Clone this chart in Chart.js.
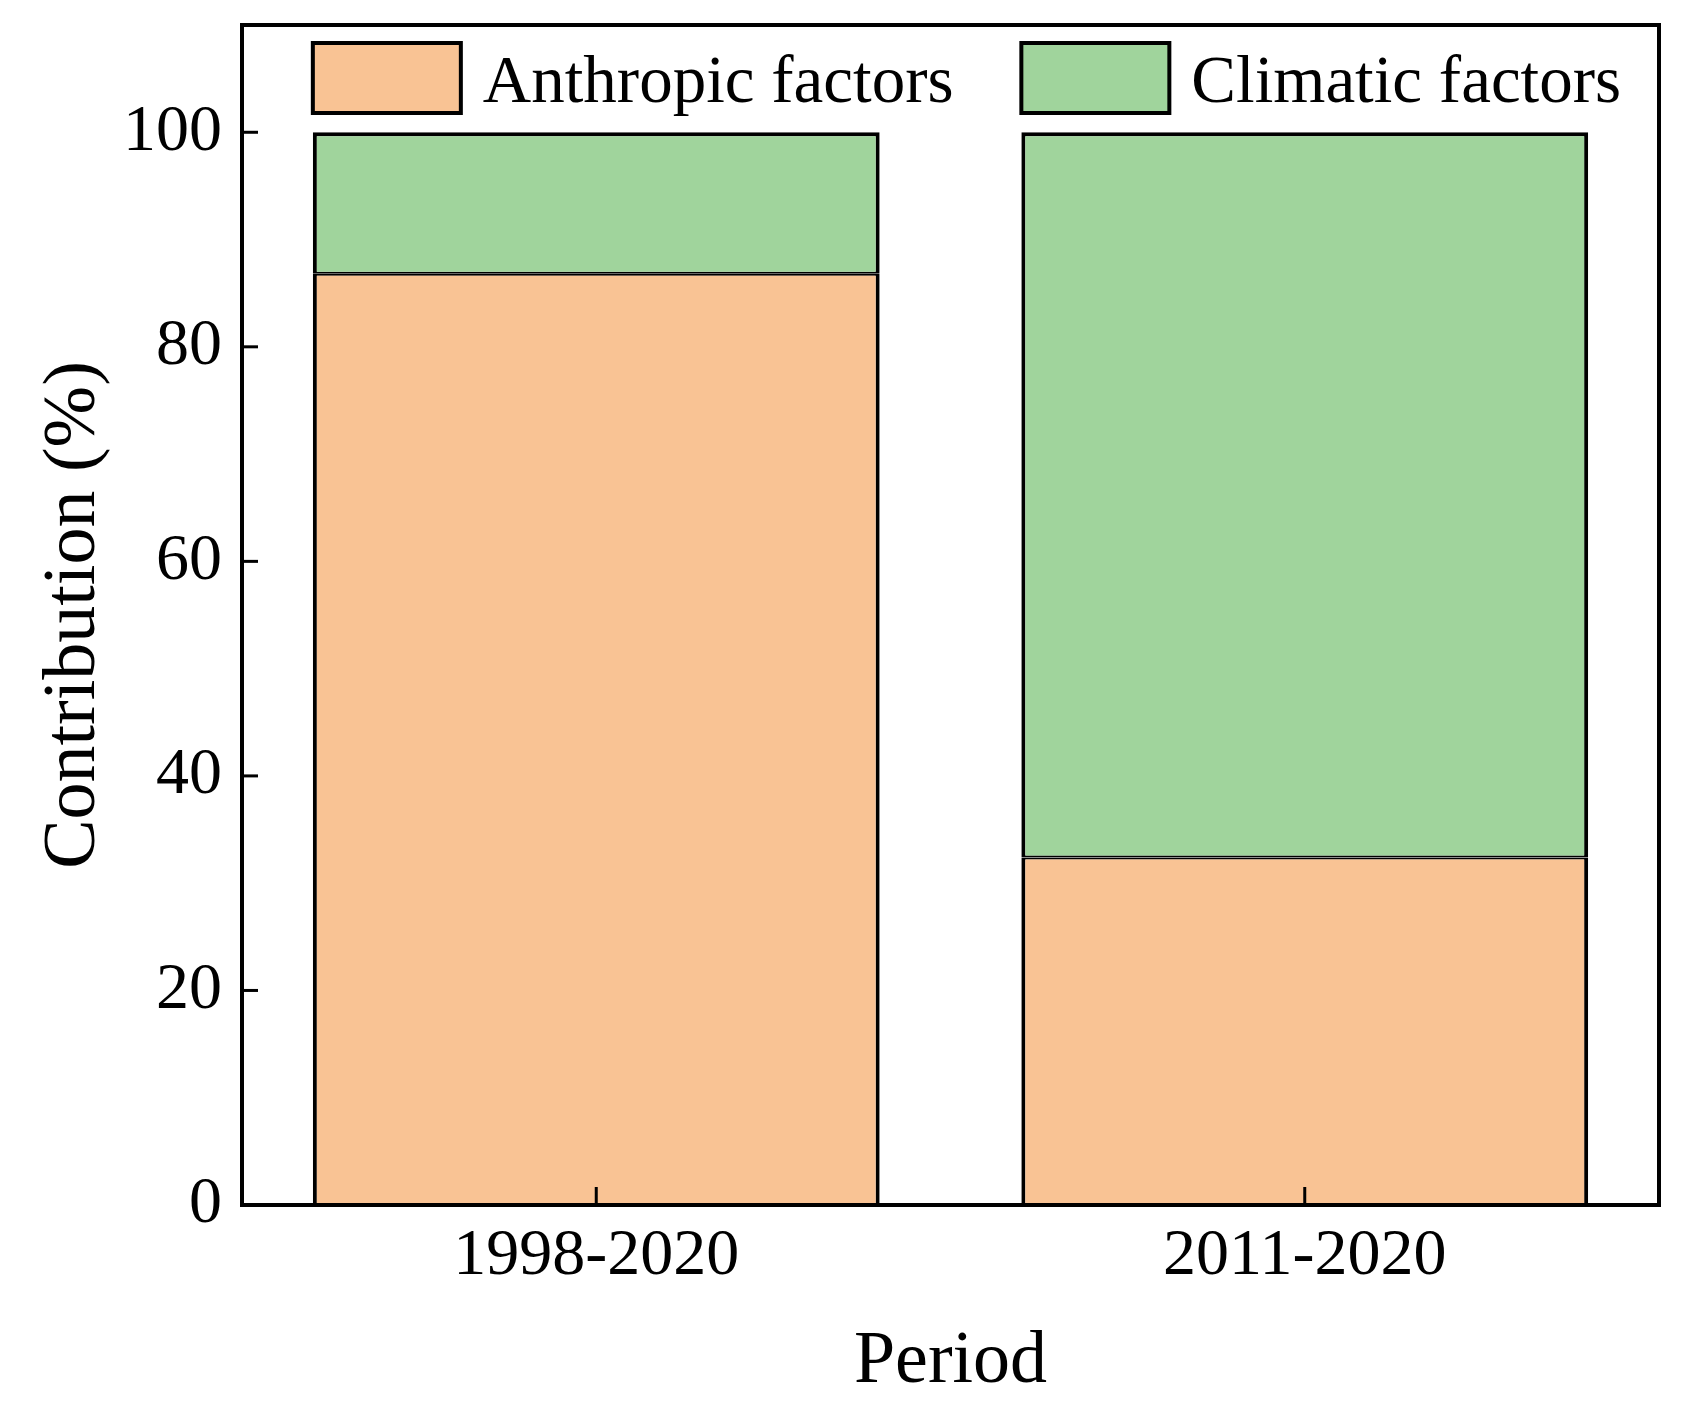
<!DOCTYPE html>
<html>
<head>
<meta charset="utf-8">
<script src="https://cdn.jsdelivr.net/npm/chart.js@4/dist/chart.umd.min.js"></script>
<style>
  html, body { margin: 0; padding: 0; background: #fff; }
  #wrap { width: 1695px; height: 1422px; }
</style>
</head>
<body>
<div id="wrap"><canvas id="c" width="1695" height="1422"></canvas></div>
<script>
// data
const periods = ["1998-2020", "2011-2020"];
const anthropic = [86.8, 32.4];
const climatic = [13.2, 67.6];
const seriesNames = ["Anthropic factors", "Climatic factors"];
const yTicks = [0, 20, 40, 60, 80, 100];

const ORANGE = "#F9C394", GREEN = "#A0D49C";
const FONT = "'Liberation Serif', 'Times New Roman', serif";

// frame, inward ticks and the in-plot legend
const framePlugin = {
  id: "frame",
  afterDatasetsDraw(chart) {
    const { ctx, chartArea: a, scales } = chart;
    ctx.save();
    ctx.strokeStyle = "#000";
    ctx.lineWidth = 4;
    ctx.strokeRect(a.left, a.top, a.right - a.left, a.bottom - a.top);
    ctx.lineWidth = 3;
    scales.y.ticks.forEach((t) => {
      const y = scales.y.getPixelForValue(t.value);
      ctx.beginPath(); ctx.moveTo(a.left, y); ctx.lineTo(a.left + 16, y); ctx.stroke();
    });
    periods.forEach((p, i) => {
      const x = scales.x.getPixelForTick(i);
      ctx.beginPath(); ctx.moveTo(x, a.bottom); ctx.lineTo(x, a.bottom - 18); ctx.stroke();
    });
    // legend: one box above each bar, left-aligned with it
    ctx.font = "67px " + FONT;
    ctx.textBaseline = "middle";
    ctx.lineWidth = 4;
    chart.data.datasets.forEach((ds, i) => {
      const bar = chart.getDatasetMeta(0).data[i];
      const bx = bar.x - bar.width / 2;
      ctx.fillStyle = ds.backgroundColor;
      ctx.fillRect(bx, 43, 148, 70);
      ctx.strokeRect(bx, 43, 148, 70);
      ctx.fillStyle = "#000";
      ctx.fillText(ds.label, bx + 170, 84);
    });
    ctx.restore();
  }
};

new Chart(document.getElementById("c"), {
  type: "bar",
  data: {
    labels: periods,
    datasets: [
      { label: seriesNames[0], data: anthropic, backgroundColor: ORANGE, borderColor: "#000",
        borderWidth: { left: 4, right: 4, top: 2, bottom: 0 }, borderSkipped: false },
      { label: seriesNames[1], data: climatic, backgroundColor: GREEN, borderColor: "#000",
        borderWidth: { left: 4, right: 4, top: 4, bottom: 2 }, borderSkipped: false },
    ],
  },
  options: {
    responsive: false,
    animation: false,
    devicePixelRatio: 1,
    layout: { padding: { top: 25, right: 36, left: 0, bottom: 0 } },
    datasets: { bar: { categoryPercentage: 0.8, barPercentage: 1 } },
    plugins: { legend: { display: false }, tooltip: { enabled: false } },
    scales: {
      x: {
        stacked: true,
        grid: { display: false, drawTicks: false },
        border: { display: false },
        ticks: { color: "#000", font: { family: FONT, size: 66 }, padding: 12 },
        title: { display: true, text: "Period", color: "#000", font: { family: FONT, size: 74 }, padding: { top: 0, bottom: 15 } },
        afterFit: (s) => { s.height = 217; s.paddingLeft = 0; s.paddingRight = 0; },
      },
      y: {
        stacked: true,
        min: 0, max: 110,
        grid: { display: false, drawTicks: false },
        border: { display: false },
        afterBuildTicks: (s) => { s.ticks = yTicks.map((v) => ({ value: v })); },
        ticks: { color: "#000", font: { family: FONT, size: 66 }, padding: 20 },
        title: { display: true, text: "Contribution (%)", color: "#000", font: { family: FONT, size: 74 }, padding: { top: 30, bottom: 0 } },
        afterFit: (s) => { s.width = 242; s.paddingTop = 0; s.paddingBottom = 0; },
      },
    },
  },
  plugins: [framePlugin],
});
</script>
</body>
</html>
